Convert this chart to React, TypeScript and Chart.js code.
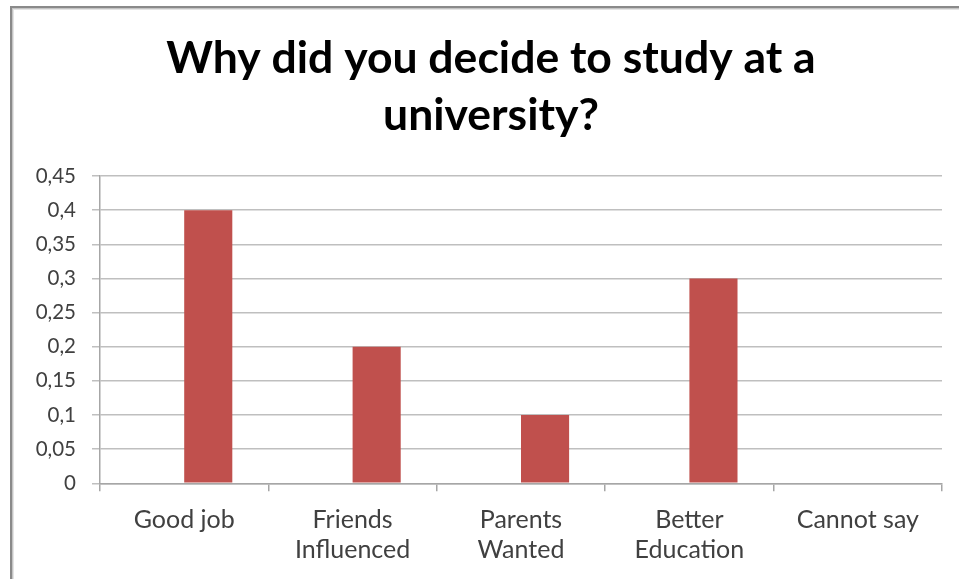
import React, { useEffect, useRef } from "react";
import { Chart, registerables } from "chart.js";

Chart.register(...registerables);

const titleLines = ["Why did you decide to study at a", "university?"];
const categories: (string | string[])[] = [
  "Good job",
  ["Friends", "Influenced"],
  ["Parents", "Wanted"],
  ["Better", "Education"],
  "Cannot say",
];
const emptySeries: (number | null)[] = [null, null, null, null, null];
const shares: number[] = [0.4, 0.2, 0.1, 0.3, 0];
const yMin = 0;
const yMax = 0.45;
const yStep = 0.05;

const FONT = "Lato, 'Open Sans', sans-serif";

const framePlugin = {
  id: "frameAndTitle",
  beforeDraw(chart: any) {
    const ctx = chart.ctx;
    ctx.save();
    ctx.fillStyle = "#ffffff";
    ctx.fillRect(0, 0, chart.width, chart.height);
    // outer frame (top and left edges visible)
    ctx.fillStyle = "#8a8a8a";
    ctx.fillRect(10, 6, chart.width - 10, 2);
    ctx.fillRect(10, 6, 2, chart.height - 6);
    ctx.fillStyle = "#c4c4c4";
    ctx.fillRect(12, 8, chart.width - 12, 1);
    ctx.fillRect(12, 8, 1, chart.height - 8);
    ctx.fillStyle = "#e4e4e4";
    ctx.fillRect(13, 9, chart.width - 13, 1);
    ctx.fillRect(13, 9, 1, chart.height - 9);
    // title
    ctx.fillStyle = "#000000";
    ctx.font = `bold 44.5px ${FONT}`;
    ctx.textAlign = "center";
    ctx.textBaseline = "alphabetic";
    ctx.fillText(titleLines[0], 491, 73);
    ctx.fillText(titleLines[1], 491, 130);
    ctx.restore();
  },
};

export default function App() {
  const canvasRef = useRef<HTMLCanvasElement | null>(null);

  useEffect(() => {
    if (!canvasRef.current) return;
    const chart = new Chart(canvasRef.current, {
      type: "bar",
      data: {
        labels: categories,
        datasets: [
          {
            label: "Series 1",
            data: emptySeries,
            backgroundColor: "#4F81BD",
          },
          {
            label: "Series 2",
            data: shares,
            backgroundColor: "#C0504D",
            borderWidth: 0,
          },
        ],
      },
      options: {
        responsive: false,
        animation: false,
        maintainAspectRatio: false,
        layout: { padding: { left: 0, right: 17, top: 176, bottom: 0 } },
        plugins: {
          legend: { display: false },
          title: { display: false },
          tooltip: { enabled: false },
        },
        datasets: {
          bar: { categoryPercentage: 0.5714, barPercentage: 1 },
        },
        scales: {
          x: {
            offset: true,
            grid: {
              offset: true,
              drawOnChartArea: false,
              drawTicks: true,
              tickLength: 8,
              color: "#a6a6a6",
              lineWidth: 1.5,
            },
            border: { color: "#a6a6a6", width: 1.5 },
            ticks: {
              color: "#404040",
              font: { family: FONT, size: 25, lineHeight: 1.2 },
              padding: 14,
              maxRotation: 0,
              autoSkip: false,
            },
            afterFit(scale: any) {
              scale.height = 95.7;
            },
          },
          y: {
            min: yMin,
            max: yMax,
            grid: {
              color: "#bfbfbf",
              lineWidth: 1.5,
              drawTicks: true,
              tickLength: 8,
            },
            border: { color: "#a6a6a6", width: 1.5 },
            ticks: {
              stepSize: yStep,
              color: "#404040",
              font: { family: FONT, size: 20.5 },
              padding: 16,
              callback: (v: any) =>
                String(Math.round(Number(v) * 100) / 100).replace(".", ","),
            },
            afterFit(scale: any) {
              scale.width = 100;
            },
          },
        },
      },
      plugins: [framePlugin],
    });
    return () => chart.destroy();
  }, []);

  return (
    <div
      style={{
        position: "fixed",
        left: 0,
        top: 0,
        width: 959,
        height: 579,
        background: "#fff",
      }}
    >
      <canvas ref={canvasRef} width={959} height={579} />
    </div>
  );
}
